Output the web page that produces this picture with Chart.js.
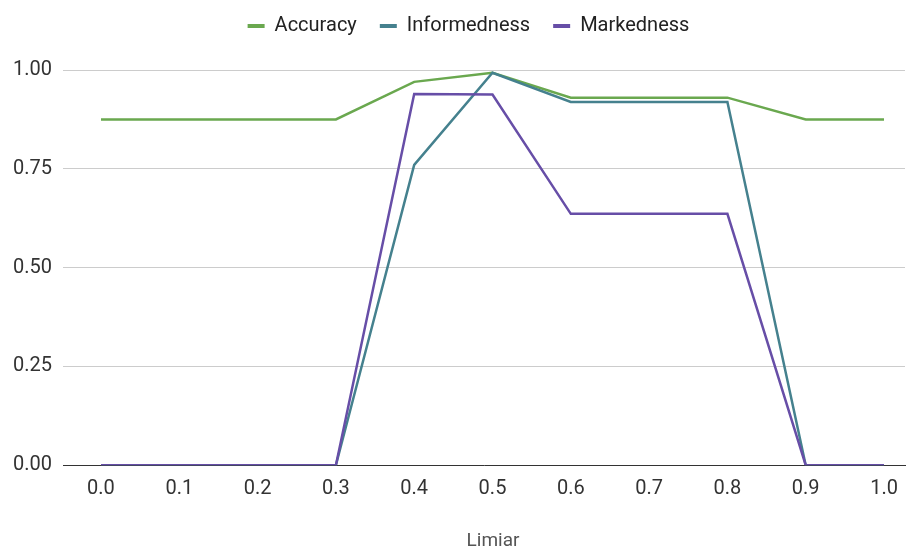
<!DOCTYPE html>
<html>
<head>
<meta charset="utf-8">
<script src="https://cdn.jsdelivr.net/npm/chart.js@4.4.1/dist/chart.umd.min.js"></script>
<style>
  html, body { margin: 0; padding: 0; background: #ffffff; }
  canvas { display: block; }
</style>
</head>
<body>
<canvas id="chart" width="914" height="550"></canvas>
<script>
// Threshold values on the x axis and their printed labels
const thresholds = [0.0, 0.1, 0.2, 0.3, 0.4, 0.5, 0.6, 0.7, 0.8, 0.9, 1.0];
const thresholdLabels = ['0.0', '0.1', '0.2', '0.3', '0.4', '0.5', '0.6', '0.7', '0.8', '0.9', '1.0'];

// Metric values per threshold
const accuracy     = [0.875, 0.875, 0.875, 0.875, 0.970, 0.993, 0.930, 0.930, 0.930, 0.875, 0.875];
const informedness = [0, 0, 0, 0, 0.760, 0.993, 0.919, 0.919, 0.919, 0, 0];
const markedness   = [0, 0, 0, 0, 0.939, 0.938, 0.636, 0.636, 0.636, 0, 0];

// Y axis ticks
const yTicks = [0, 0.25, 0.5, 0.75, 1.0];

const seriesNames = ['Accuracy', 'Informedness', 'Markedness'];
const seriesColors = ['#6aa84f', '#45818e', '#674ea7'];

const FONT = 'Roboto, "Noto Sans", Arial, sans-serif';

function toPoints(values) {
  return thresholds.map((t, i) => ({ x: t, y: values[i] }));
}

// Leaves extra room under the legend, centres it over the plot
// and nudges the x axis title to the right
const layoutTweaks = {
  id: 'layoutTweaks',
  beforeInit(chart) {
    const legend = chart.legend;
    if (!legend) return;
    const fit = legend.fit;
    legend.fit = function () {
      fit.call(this);
      this.height += 24;
    };
  },
  afterLayout(chart) {
    const legend = chart.legend;
    if (legend) {
      legend.left += 16;
      legend.right += 16;
    }
    const xScale = chart.scales.x;
    if (xScale && !xScale._titleShifted) {
      const drawTitle = xScale.drawTitle;
      xScale.drawTitle = function (...args) {
        const ctx = this.ctx;
        ctx.save();
        ctx.translate(9, 0);
        drawTitle.apply(this, args);
        ctx.restore();
      };
      xScale._titleShifted = true;
    }
  }
};

const datasets = [accuracy, informedness, markedness].map((vals, i) => ({
  label: seriesNames[i],
  data: toPoints(vals),
  borderColor: seriesColors[i],
  backgroundColor: seriesColors[i],
  borderWidth: 2.5,
  pointRadius: 0,
  pointHoverRadius: 0,
  tension: 0,
  fill: false,
  order: 3 - i
}));

new Chart(document.getElementById('chart'), {
  type: 'line',
  data: { datasets },
  options: {
    responsive: false,
    animation: false,
    devicePixelRatio: 1,
    layout: { padding: { top: -7, left: 0, right: 9, bottom: -3 } },
    plugins: {
      tooltip: { enabled: false },
      legend: {
        position: 'top',
        align: 'center',
        labels: {
          boxWidth: 17,
          boxHeight: 4,
          padding: 23,
          color: '#222222',
          font: { family: FONT, size: 20 },
          generateLabels(chart) {
            const items = Chart.defaults.plugins.legend.labels.generateLabels(chart);
            items.sort((a, b) => a.datasetIndex - b.datasetIndex);
            return items.map(it => Object.assign(it, { lineWidth: 0, fillStyle: it.strokeStyle }));
          }
        }
      }
    },
    scales: {
      x: {
        type: 'linear',
        min: -0.0485,
        max: 1.0268,
        afterBuildTicks(scale) {
          scale.ticks = thresholds.map(v => ({ value: v }));
        },
        ticks: {
          autoSkip: false,
          maxRotation: 0,
          padding: 11.5,
          color: '#333333',
          font: { family: FONT, size: 20 },
          callback(value, index) { return thresholdLabels[index]; }
        },
        grid: { display: false, drawTicks: false },
        border: { display: true, color: '#333333', width: 1 },
        title: {
          display: true,
          text: 'Limiar',
          color: '#555555',
          font: { family: FONT, size: 19 },
          padding: { top: 18, bottom: 0 }
        }
      },
      y: {
        min: 0,
        max: 1,
        afterBuildTicks(scale) {
          scale.ticks = yTicks.map(v => ({ value: v }));
        },
        afterFit(scale) { scale.width = 63; },
        ticks: {
          padding: 11,
          color: '#333333',
          font: { family: FONT, size: 20 },
          callback(value) { return Number(value).toFixed(2); }
        },
        grid: { color: '#cccccc', lineWidth: 1, drawTicks: false },
        border: { display: false }
      }
    }
  },
  plugins: [layoutTweaks]
});
</script>
</body>
</html>
